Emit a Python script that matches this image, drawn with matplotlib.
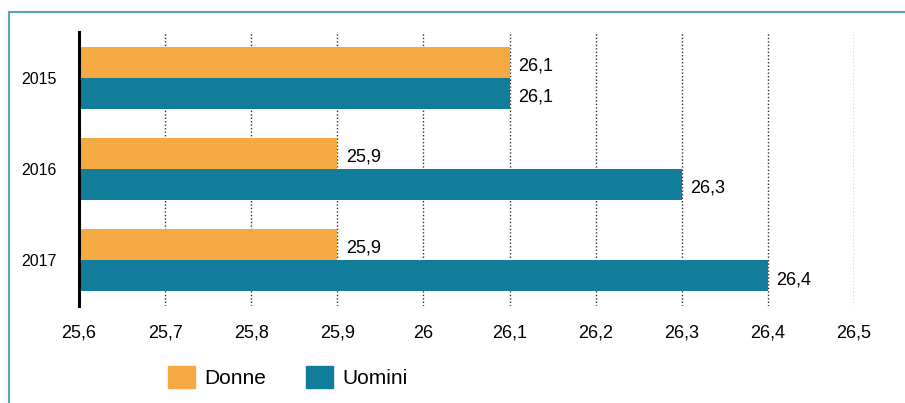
import matplotlib
matplotlib.use("Agg")
import matplotlib.pyplot as plt
import numpy as np
from matplotlib.lines import Line2D
from matplotlib.patches import Patch

plt.rcParams['font.family'] = ['Liberation Sans', 'DejaVu Sans']

anni = ['2015', '2016', '2017']
donne = [26.1, 25.9, 25.9]
uomini = [26.1, 26.3, 26.4]
x_ticks = [25.6, 25.7, 25.8, 25.9, 26.0, 26.1, 26.2, 26.3, 26.4, 26.5]

c_donne = '#F5A942'
c_uomini = '#127C9B'
x0 = 25.6

def fmt(v):
    return ('%g' % round(v, 1)).replace('.', ',')

fig = plt.figure(figsize=(9.05, 4.03), dpi=100)
W, H = 905, 403
ax = fig.add_axes([79 / W, 1 - 306 / H, (854 - 79) / W, (306 - 32) / H])

y = np.arange(len(anni))
h = 0.34
ax.barh(y - h / 2, np.array(donne) - x0, left=x0, height=h, color=c_donne, zorder=2)
ax.barh(y + h / 2, np.array(uomini) - x0, left=x0, height=h, color=c_uomini, zorder=2)

for i in range(len(anni)):
    ax.text(donne[i] + 0.01, y[i] - h / 2 + 0.04, fmt(donne[i]), va='center', ha='left', fontsize=13)
    ax.text(uomini[i] + 0.01, y[i] + h / 2 + 0.04, fmt(uomini[i]), va='center', ha='left', fontsize=13)

ax.set_xlim(25.6, 26.5)
ax.set_ylim(2.5, -0.5)
ax.set_xticks(x_ticks)
ax.set_xticklabels([fmt(v) for v in x_ticks], fontsize=13)
for lab in ax.get_xticklabels():
    lab.set_va('baseline')
ax.set_yticks(y)
ax.set_yticklabels(anni, fontsize=11.5)
ax.tick_params(axis='x', length=0, pad=23)
ax.tick_params(axis='y', length=0, pad=16)
ax.xaxis.grid(True, linestyle=(0, (1, 1.5)), color='#333333', linewidth=1, zorder=1)
ax.set_axisbelow(True)
for s in ['top', 'right', 'bottom']:
    ax.spines[s].set_visible(False)
ax.spines['left'].set_linewidth(2.2)
ax.spines['left'].set_color('black')
ax.spines['left'].set_zorder(3)

# cornice
fig.add_artist(Line2D([9 / W, 9 / W], [0, 1 - 12 / H], color='#5BA5BB', linewidth=1.5))
fig.add_artist(Line2D([9 / W, 1], [1 - 12 / H, 1 - 12 / H], color='#5BA5BB', linewidth=1.5))

handles = [Patch(color=c_donne, label='Donne'), Patch(color=c_uomini, label='Uomini')]
fig.legend(handles=handles, loc='center', bbox_to_anchor=(288 / W, 1 - 377 / H), ncol=2,
           frameon=False, fontsize=15, handlelength=1.3, handleheight=1.3,
           handletextpad=0.45, columnspacing=1.9)

fig.savefig('out.png', dpi=100)
